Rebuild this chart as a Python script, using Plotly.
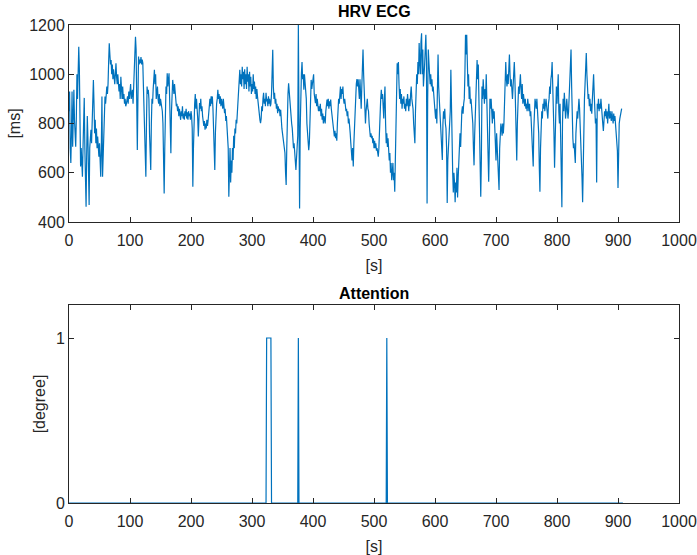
import plotly.graph_objects as go

# ---------------- data ----------------
hrv_t = list(range(0, 907))
hrv_ms = [
 850,930,700,640,760,930,706,820,937,815,760,706,820,1000,900,1050,1112,1020,760,625,
 700,650,584,706,780,904,700,620,462,680,830,740,640,469,700,740,774,720,840,900,
 977,880,760,815,720,780,700,747,700,665,720,640,584,700,910,584,700,820,870,910,
 880,940,950,920,960,1050,1126,1080,1040,1058,1000,1040,980,1020,990,960,1000,1045,990,960,
 1000,950,930,960,900,990,940,900,950,900,920,880,900,870,880,900,910,880,930,900,
 923,960,900,930,937,880,950,1050,1100,1152,1100,900,692,900,1072,1040,1060,1045,1070,1040,
 1060,1045,950,850,760,650,584,800,950,920,937,900,760,680,611,800,900,880,940,980,
 1018,960,1000,900,940,950,900,880,920,870,900,880,870,850,800,650,516,700,880,950,
 920,1004,950,980,1004,900,800,679,850,920,977,950,920,960,923,900,870,880,850,870,
 830,860,840,815,850,830,870,820,840,815,850,830,860,820,845,815,850,830,840,815,
 850,830,780,543,700,850,
 880,920,860,900,870,820,747,850,883,860,900,850,870,830,815,790,810,775,800,780,
 815,790,810,850,880,900,870,910,880,910,860,780,700,611,760,850,880,900,937,900,
 920,880,910,870,900,883,860,900,870,842,860,810,830,788,774,700,503,620,700,560,
 650,600,700,652,750,700,780,760,815,800,850,883,900,950,1018,960,1000,950,1030,980,
 1010,940,1020,960,1000,940,1030,970,1000,930,1010,950,990,920,960,930,1000,940,970,920,
 950,900,940,910,880,850,830,815,801,820,870,850,900,925,880,900,870,925,890,900,
 870,910,880,900,870,880,920,1000,1099,950,900,925,880,900,860,880,842,870,850,860,
 830,856,800,780,760,740,720,706,680,600,550,700,860,920,963,920,880,870,840,800,
 780,747,700,720,679,640,611,660,700,750,1200,600,455,780,1000,1004,1050,980,1000,937,
 1000,960,937,900,800,760,700,692,720,800,900,977,940,960,977,1000,920,900,883,920,
 870,900,883,850,870,
 850,880,830,860,815,840,800,830,810,800,850,880,897,870,900,860,890,870,897,860,
 840,800,780,760,747,770,740,760,730,800,860,900,880,920,950,900,940,920,950,900,
 880,900,870,850,860,830,850,800,820,800,760,720,680,650,700,625,720,800,880,930,
 960,980,950,980,940,900,980,870,860,950,1050,1100,1000,900,820,800,850,870,900,860,
 850,800,770,745,760,740,750,720,740,700,730,700,720,690,700,680,665,700,800,860,
 900,937,900,920,880,820,900,950,800,720,760,705,740,700,650,680,600,640,570,600,
 640,570,600,523,700,900,1010,1045,1000,1050,
 960,900,940,880,920,860,900,880,910,860,880,850,900,870,920,880,850,900,870,920,
 950,900,880,860,800,760,720,850,950,1000,960,1050,1000,1127,1050,1000,1130,
 1166,1000,1100,950,980,1040,1100,1160,1050,475,900,1100,1050,1000,960,1000,950,980,930,950,
 900,880,850,820,860,800,1000,1080,950,900,880,850,800,760,652,800,850,820,860,800,
 780,700,477,650,720,760,800,850,1018,800,650,600,520,600,560,480,560,520,620,500,
 580,650,700,760,705,800,850,870,840,880,900,1000,1160,1080,1160,1050,950,1000,900,950,
 880,900,860,820,800,700,630,750,820,880,950,1058,980,1040,900,760,600,503,650,950,
 900,980,920,880,940,900,1000,900,800,700,563,700,900,860,900,840,800,860,820,850,
 800,720,650,760,700,600,560,530,700,760,800,780,750,800,760,800,880,1000,1050,980,
 950,1000,960,1020,1080,1000,950,980,940,900,950,1000,1050,980,900,760,650,800,900,950,
 920,980,1000,940,900,960,880,920,900,870,900,860,880,850,900,870,850,880,830,850,
 800,760,700,625,780,850,900,880,860,900,850,820,760,620,523,700,800,850,820,880,
 860,900,850,880,900,870,850,820,880,900,950,920,980,1000,1050,980,900,760,620,800,
 900,950,880,920,1000,850,800,880,700,560,460,800,900,850,925,880,820,850,900,860,
 820,850,900,960,1000,1100,950,800,740,700,720,680,640,760,800,850,820,880,900,860,
 800,700,625,580,480,700,850,900,960,1000,1086,1000,950,900,920,870,900,850,880,840,
 900,950,1000,920,850,800,820,560,880,860,900,850,880,860,900,850,820,800,770,820,
 850,830,860,820,850,800,840,880,820,850,830,810,850,820,800,840,810,830,780,760,
 730,690,538,700,800,820,840,855,860,
]

att_t = [0, 323, 324, 331, 332, 375, 376, 377, 520, 521, 522, 908]
att_v = [0, 0, 1, 1, 0, 0, 1, 0, 0, 1, 0, 0]

x_range = [0, 1000]
hrv_range = [400, 1200]
att_range = [0, 1.2]
att_ticks = [0, 1]

n = min(len(hrv_t), len(hrv_ms))
hrv_t = hrv_t[:n]
hrv_ms = hrv_ms[:n]

LINE = "#0072BD"
AX = "#262626"
FONT = "Liberation Sans, Arial, Helvetica, sans-serif"

fig = go.Figure()
fig.add_trace(go.Scatter(x=hrv_t, y=hrv_ms, mode="lines",
                         line=dict(color=LINE, width=1.2), xaxis="x", yaxis="y",
                         showlegend=False))
fig.add_trace(go.Scatter(x=att_t, y=att_v, mode="lines",
                         line=dict(color=LINE, width=1.2), xaxis="x2", yaxis="y2",
                         showlegend=False))

axcommon = dict(showgrid=False, zeroline=False, showline=True, linecolor=AX,
                linewidth=1, mirror="allticks", ticks="inside", ticklen=5,
                tickcolor=AX, automargin=False,
                tickfont=dict(family=FONT, size=16, color=AX))
tfont = dict(family=FONT, size=16, color=AX)

H = 555 - 25 - 52
XD = [0, 610 / 611]
fig.update_layout(
    width=697, height=555,
    margin=dict(l=69, r=17, t=25, b=52),
    paper_bgcolor="white", plot_bgcolor="white",
    font=dict(family=FONT, color=AX),
    xaxis=dict(domain=XD, range=x_range, dtick=100, anchor="y",
               ticklabelstandoff=4,
               title=dict(text="[s]", font=tfont, standoff=11),
               **axcommon),
    yaxis=dict(domain=[1 - 197 / H, 1], range=hrv_range, dtick=200, anchor="x",
               title=dict(text="[ms]", font=tfont, standoff=4),
               **axcommon),
    xaxis2=dict(domain=XD, range=x_range, dtick=100, anchor="y2",
                ticklabelstandoff=4,
                title=dict(text="[s]", font=tfont, standoff=11),
                **axcommon),
    yaxis2=dict(domain=[0, 198 / H], range=att_range, tickvals=att_ticks, anchor="x2",
                title=dict(text="[degree]", font=tfont, standoff=6),
                **axcommon),
    annotations=[
        dict(text="<b>HRV ECG</b>", x=0.5, xref="x domain", y=1, yref="y domain",
             yanchor="bottom", yshift=3, showarrow=False,
             font=dict(family=FONT, size=16, color="black")),
        dict(text="<b>Attention</b>", x=0.5, xref="x2 domain", y=1, yref="y2 domain",
             yanchor="bottom", yshift=1, showarrow=False,
             font=dict(family=FONT, size=16, color="black")),
    ],
)

fig.write_html("out.html")
